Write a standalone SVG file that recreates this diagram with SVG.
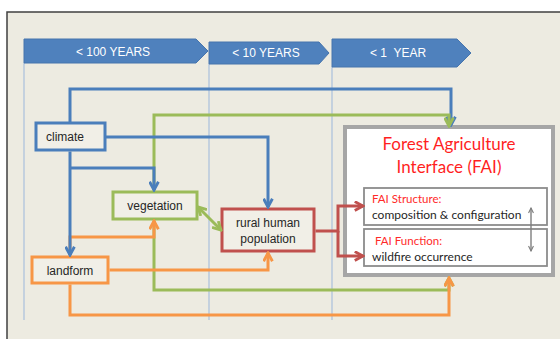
<svg xmlns="http://www.w3.org/2000/svg" width="560" height="339" viewBox="0 0 560 339">
<style>
.hdr{fill:#4f81bd;stroke:#4775ad;stroke-width:1}
.ht{font-family:"Liberation Sans",Arial,sans-serif;font-size:12px;fill:#ffffff;text-anchor:middle;white-space:pre}
.lane{stroke:#a9c0dc;stroke-width:1.2}
.node{fill:#f1efe7;stroke-width:3}
.nt{font-family:"Liberation Sans",Arial,sans-serif;font-size:12px;fill:#262626;text-anchor:middle}
.ln{fill:none;stroke-width:3}
.b{stroke:#4a7ebb}.g{stroke:#9bbb59}.o{stroke:#f79646}.r{stroke:#c0504d}
.fai{font-family:Lato,"Open Sans",sans-serif}
</style>
<defs>
<marker id="ab" viewBox="0 0 10 10" refX="8.5" refY="5" markerWidth="11" markerHeight="11" markerUnits="userSpaceOnUse" orient="auto-start-reverse"><path d="M1,1 L8.5,5 L1,9" fill="none" stroke="#4a7ebb" stroke-width="2.6"/></marker>
<marker id="ag" viewBox="0 0 10 10" refX="8.5" refY="5" markerWidth="11" markerHeight="11" markerUnits="userSpaceOnUse" orient="auto-start-reverse"><path d="M1,1 L8.5,5 L1,9" fill="none" stroke="#9bbb59" stroke-width="2.6"/></marker>
<marker id="ao" viewBox="0 0 10 10" refX="8.5" refY="5" markerWidth="11" markerHeight="11" markerUnits="userSpaceOnUse" orient="auto-start-reverse"><path d="M1,1 L8.5,5 L1,9" fill="none" stroke="#f79646" stroke-width="2.6"/></marker>
<marker id="ar" viewBox="0 0 10 10" refX="8.5" refY="5" markerWidth="11" markerHeight="11" markerUnits="userSpaceOnUse" orient="auto-start-reverse"><path d="M1,1 L8.5,5 L1,9" fill="none" stroke="#c0504d" stroke-width="2.6"/></marker>
<marker id="ak" viewBox="0 0 10 10" refX="8" refY="5" markerWidth="7" markerHeight="7" markerUnits="userSpaceOnUse" orient="auto-start-reverse"><path d="M1,1.5 L8,5 L1,8.5" fill="none" stroke="#7f7f7f" stroke-width="1.6"/></marker>
</defs>
<rect x="0" y="0" width="560" height="339" fill="#ffffff"/>
<rect x="7" y="12" width="560" height="340" fill="#edebe1" stroke="#404040" stroke-width="1.5"/>

<g id="lanes">
<line class="lane" x1="24" y1="63" x2="24" y2="320"/>
<line class="lane" x1="209" y1="64" x2="209" y2="320"/>
<line class="lane" x1="332" y1="67" x2="332" y2="320"/>
</g>

<g id="hdr100"><polygon class="hdr" points="24,39 196,39 208,51 196,63 24,63"/><text class="ht" x="113" y="56">&lt; 100 YEARS</text></g>
<g id="hdr10"><polygon class="hdr" points="209,42 319,42 329,53 319,64 209,64"/><text class="ht" x="266" y="57">&lt; 10 YEARS</text></g>
<g id="hdr1"><polygon class="hdr" points="332,39 457,39 471,53 457,67 332,67"/><text class="ht" x="398" y="57">&lt; 1  YEAR</text></g>

<g id="climate"><rect class="node" x="36" y="123" width="69" height="27" stroke="#4a7ebb"/><text class="nt" x="65" y="141">climate</text></g>
<g id="vegetation"><rect class="node" x="113" y="192" width="84" height="27" stroke="#9bbb59"/><text class="nt" x="155" y="210">vegetation</text></g>
<g id="rural"><rect class="node" x="222" y="209" width="92" height="42" stroke="#c0504d"/><text class="nt" x="268" y="227">rural human</text><text class="nt" x="268" y="243">population</text></g>
<g id="landform"><rect class="node" x="32" y="257" width="76" height="26" stroke="#f79646"/><text class="nt" x="70" y="275">landform</text></g>

<g id="fai">
<rect x="345" y="127" width="208" height="148" fill="#ffffff" stroke="#a6a6a6" stroke-width="4"/>
<text class="fai" x="449" y="150" font-size="17" fill="#ff1f1f" text-anchor="middle">Forest Agriculture</text>
<text class="fai" x="449" y="173" font-size="17" fill="#ff1f1f" text-anchor="middle">Interface (FAI)</text>
<g id="fai-structure"><rect x="364" y="188" width="183" height="37" fill="#ffffff" stroke="#8c8c8c" stroke-width="1.8"/>
<text class="fai" x="372" y="203" font-size="11.5" fill="#ff2a2a">FAI Structure:</text>
<text class="fai" x="372" y="219" font-size="12" fill="#262626">composition &amp; configuration</text></g>
<g id="fai-function"><rect x="364" y="229" width="183" height="37" fill="#ffffff" stroke="#8c8c8c" stroke-width="1.8"/>
<text class="fai" x="375" y="245" font-size="11.5" fill="#ff2a2a">FAI Function:</text>
<text class="fai" x="372" y="261" font-size="12" fill="#262626">wildfire occurrence</text></g>
<line x1="531" y1="208" x2="531" y2="251" stroke="#7f7f7f" stroke-width="1.4" marker-start="url(#ak)" marker-end="url(#ak)"/>
</g>

<g id="connectors">
<path class="ln b" d="M70,123 V89 H451 V125" marker-end="url(#ab)"/>
<path class="ln g" d="M154,190.5 V115 H449 V126" marker-end="url(#ag)"/>
<path class="ln b" d="M105,137 H268 V207" marker-end="url(#ab)"/>
<path class="ln b" d="M70,168 H154 V190" marker-end="url(#ab)"/>
<path class="ln g" d="M154,220.5 V290 H449 V278" marker-end="url(#ag)"/>
<path class="ln o" d="M70,255.5 V237 H154 V221" marker-end="url(#ao)"/>
<path class="ln b" d="M70,151.5 V255" marker-end="url(#ab)"/>
<path class="ln o" d="M109.5,270 H268 V253" marker-end="url(#ao)"/>
<path class="ln o" d="M70,284.5 V315 H449 V278" marker-end="url(#ao)"/>
<path class="ln g" d="M198,207 L221,230" marker-start="url(#ag)" marker-end="url(#ag)"/>
<path class="ln r" d="M315.5,231 H338 V206 H363" marker-end="url(#ar)"/>
<path class="ln r" d="M338,231 V256 H363" marker-end="url(#ar)"/>
</g>
</svg>
